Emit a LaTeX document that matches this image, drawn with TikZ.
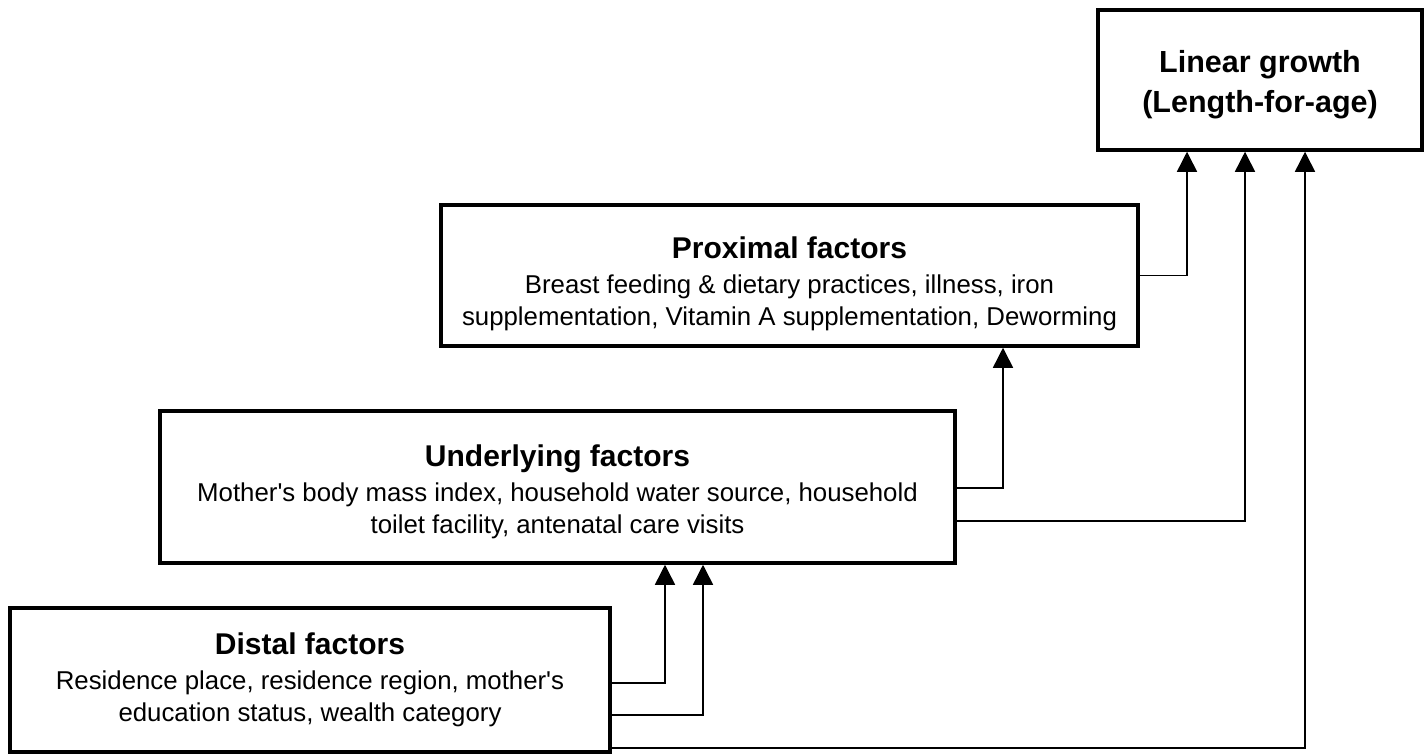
\documentclass[tikz,border=0pt]{standalone}
\usepackage{fontspec}
\setmainfont{Liberation Sans}
\usetikzlibrary{arrows.meta}
\newcommand{\boxtitle}[2]{{\fontsize{30}{32}\selectfont\bfseries\rule{0pt}{#1}#2}}
\begin{document}
\begin{tikzpicture}[x=1pt,y=-1pt,
  box/.style={draw, line width=3.5pt, fill=white, align=center, inner sep=0pt,
    font=\fontsize{25.8}{32}\selectfont},
  conn/.style={line width=1.5pt, -{Triangle[length=20pt,width=20pt]}}]
\useasboundingbox (0,0) rectangle (1427,753);
\fill[white] (0,0) rectangle (1427,753);

\node[box, minimum width=324pt, minimum height=140pt,
  font=\fontsize{30.5}{40}\selectfont\bfseries] (lin) at (1260,80)
  {\rule{0pt}{32pt}Linear growth\\(Length-for-age)};
\node[box, minimum width=697pt, minimum height=141pt] (prox) at (789.5,275.5)
  {\boxtitle{38pt}{Proximal factors}\\[3pt]
   Breast feeding \& dietary practices, illness, iron\\
   supplementation, Vitamin A supplementation, Deworming};
\node[box, minimum width=795pt, minimum height=152pt] (under) at (557.5,487)
  {\boxtitle{32pt}{Underlying factors}\\[3pt]
   Mother\textquotesingle s body mass index, household water source, household\\
   toilet facility, antenatal care visits};
\node[box, minimum width=600pt, minimum height=144pt] (dist) at (310,680)
  {\boxtitle{0pt}{Distal factors}\\[3pt]
   Residence place, residence region, mother\textquotesingle s\\
   education status, wealth category};

\coordinate (xa) at (1187,0);
\coordinate (xb) at (1245,0);
\coordinate (xc) at (1305,0);
\coordinate (xd) at (1003,0);
\coordinate (xe) at (665,0);
\coordinate (xf) at (703,0);
\coordinate (yb) at (0,521);
\coordinate (yc) at (0,748);
\coordinate (yd) at (0,488);
\coordinate (ye) at (0,683);
\coordinate (yf) at (0,715);

\draw[conn] (prox.east) -| (lin.south -| xa);
\draw[conn] (under.east |- yb) -| (lin.south -| xb);
\draw[conn] (dist.east |- yc) -| (lin.south -| xc);
\draw[conn] (under.east |- yd) -| (prox.south -| xd);
\draw[conn] (dist.east |- ye) -| (under.south -| xe);
\draw[conn] (dist.east |- yf) -| (under.south -| xf);
\end{tikzpicture}
\end{document}
